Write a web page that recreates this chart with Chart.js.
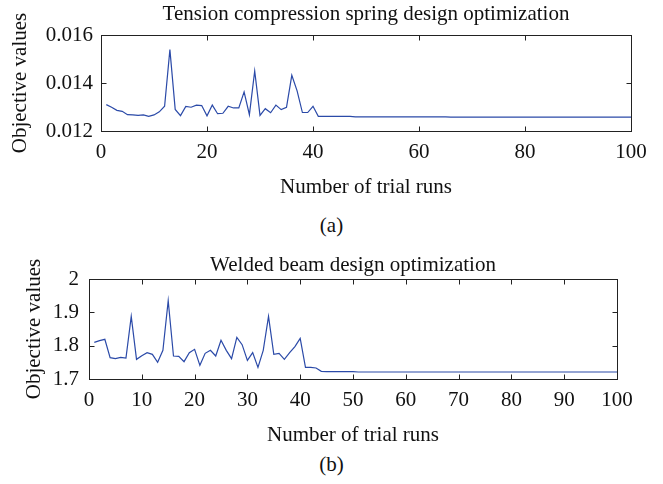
<!DOCTYPE html>
<html lang="en">
<head>
<meta charset="UTF-8">
<title>Objective values per trial run</title>
<script src="https://cdn.jsdelivr.net/npm/chart.js"></script>
<style>
  body { margin: 0; background: #fff; width: 663px; height: 484px; position: relative; overflow: hidden;
         font-family: "Liberation Serif", serif; color: #111; }
  .panel { position: absolute; left: 0; width: 663px; height: 210px; }
  .cap { position: absolute; left: 0; width: 663px; text-align: center; font-size: 21px; line-height: 24px; }
</style>
</head>
<body>
<div class="panel" style="top:0"><canvas id="springChart"></canvas></div>
<div class="cap" style="top:213px">(a)</div>
<div class="panel" style="top:240px"><canvas id="beamChart"></canvas></div>
<div class="cap" style="top:452px">(b)</div>

<script>
// run numbers 1..100 on the x axis
const runs = Array.from({ length: 100 }, (_, i) => i + 1);

// (a) tension compression spring, objective value per run
const springValues = [
  0.01310, 0.01299, 0.01286, 0.01282, 0.01268, 0.01267, 0.01265, 0.01267, 0.01261, 0.01267,
  0.01280, 0.01303, 0.01539, 0.01290, 0.01264, 0.01302, 0.01299, 0.01308, 0.01306, 0.01263,
  0.01308, 0.01272, 0.01274, 0.01303, 0.01296, 0.01296, 0.01363, 0.01268, 0.01450, 0.01265,
  0.01293, 0.01276, 0.01308, 0.01289, 0.01299, 0.01432, 0.01367, 0.01277, 0.01277, 0.01303,
  0.01261, 0.01261, 0.01261, 0.01261, 0.01261, 0.01261, 0.01261, 0.01259, 0.01259, 0.01259,
  0.01259, 0.01259, 0.01259, 0.01259, 0.01259, 0.01259, 0.01259, 0.01259, 0.01259, 0.01259,
  0.01259, 0.01259, 0.01259, 0.01259, 0.01259, 0.01258, 0.01258, 0.01258, 0.01258, 0.01258,
  0.01258, 0.01258, 0.01258, 0.01258, 0.01258, 0.01258, 0.01258, 0.01258, 0.01258, 0.01258,
  0.01258, 0.01258, 0.01258, 0.01258, 0.01258, 0.01258, 0.01258, 0.01258, 0.01258, 0.01258,
  0.01258, 0.01258, 0.01258, 0.01258, 0.01258, 0.01258, 0.01258, 0.01258, 0.01258, 0.01258
];

// (b) welded beam, objective value per run
const beamValues = [
  1.810, 1.815, 1.819, 1.764, 1.761, 1.765, 1.763, 1.888, 1.759, 1.770,
  1.779, 1.774, 1.750, 1.786, 1.935, 1.769, 1.768, 1.752, 1.779, 1.789,
  1.741, 1.777, 1.786, 1.769, 1.816, 1.786, 1.761, 1.825, 1.803, 1.756,
  1.779, 1.735, 1.786, 1.888, 1.774, 1.777, 1.759, 1.779, 1.797, 1.822,
  1.735, 1.735, 1.733, 1.723, 1.722, 1.722, 1.722, 1.722, 1.722, 1.722,
  1.721, 1.721, 1.721, 1.721, 1.721, 1.721, 1.721, 1.721, 1.721, 1.721,
  1.721, 1.721, 1.721, 1.721, 1.721, 1.721, 1.721, 1.721, 1.721, 1.721,
  1.721, 1.721, 1.721, 1.721, 1.721, 1.721, 1.721, 1.721, 1.721, 1.721,
  1.721, 1.721, 1.721, 1.721, 1.721, 1.721, 1.721, 1.721, 1.721, 1.721,
  1.721, 1.721, 1.721, 1.721, 1.721, 1.721, 1.721, 1.721, 1.721, 1.721
];

const FAMILY = '"Liberation Serif", "Times New Roman", serif';
const FONT = { family: FAMILY, size: 21, weight: 'normal' };
const TITLE_FONT = { family: FAMILY, size: 21, weight: 'normal', lineHeight: 1 };
const INK = '#111';
const LINE = '#2b4aa8';

// matlab style box with inward tick marks on all four sides
const boxFrame = {
  id: 'boxFrame',
  afterDatasetsDraw(chart) {
    const { ctx, chartArea: a, scales: { x, y } } = chart;
    const L = Math.round(a.left) + 0.5, R = Math.round(a.right) + 0.5;
    const T = Math.round(a.top) + 0.5, B = Math.round(a.bottom) + 0.5;
    ctx.save();
    ctx.strokeStyle = '#222';
    ctx.lineWidth = 1;
    ctx.strokeRect(L, T, R - L, B - T);
    ctx.beginPath();
    x.ticks.forEach(t => {
      const px = Math.round(x.getPixelForValue(t.value)) + 0.5;
      ctx.moveTo(px, B); ctx.lineTo(px, B - 5);
      ctx.moveTo(px, T); ctx.lineTo(px, T + 5);
    });
    y.ticks.forEach(t => {
      const py = Math.round(y.getPixelForValue(t.value)) + 0.5;
      ctx.moveTo(L, py); ctx.lineTo(L + 5, py);
      ctx.moveTo(R, py); ctx.lineTo(R - 5, py);
    });
    ctx.stroke();
    ctx.restore();
  }
};

function makeChart(id, cfg) {
  return new Chart(document.getElementById(id), {
    type: 'line',
    data: {
      datasets: [{
        data: runs.map((r, i) => ({ x: r, y: cfg.values[i] })),
        borderColor: LINE,
        borderWidth: 1.2,
        pointRadius: 0,
        tension: 0,
        fill: false
      }]
    },
    options: {
      responsive: true,
      maintainAspectRatio: false,
      animation: false,
      layout: { padding: { left: 0, right: cfg.rightPad, top: 0, bottom: 0 } },
      plugins: {
        legend: { display: false },
        tooltip: { enabled: false },
        title: {
          display: true, text: cfg.title, color: INK, font: TITLE_FONT, fullSize: false,
          padding: { top: cfg.titleTop, bottom: cfg.titleBottom }
        }
      },
      scales: {
        x: {
          type: 'linear', min: 0, max: 100,
          grid: { display: false, drawTicks: false },
          border: { display: false },
          ticks: { stepSize: cfg.xStep, padding: 9, color: INK, font: FONT, maxRotation: 0, autoSkip: false },
          title: { display: true, text: 'Number of trial runs', color: INK, font: FONT,
                   padding: { top: 0, bottom: cfg.xTitleBottom } },
          afterFit(s) { s.height = cfg.xAxisHeight; }
        },
        y: {
          min: cfg.yMin, max: cfg.yMax,
          grid: { display: false, drawTicks: false },
          border: { display: false },
          ticks: { stepSize: cfg.yStep, padding: cfg.yTickPad, color: INK, font: FONT,
                   callback: v => String(Number(v.toFixed(cfg.yDigits))) },
          title: { display: true, text: 'Objective values', color: INK, font: FONT,
                   padding: { top: cfg.yTitleLeft, bottom: 0 } },
          afterFit(s) { s.width = cfg.yAxisWidth; }
        }
      }
    },
    plugins: [boxFrame]
  });
}

makeChart('springChart', {
  values: springValues,
  title: 'Tension compression spring design optimization',
  titleTop: 4, titleBottom: 10,
  xStep: 20, xAxisHeight: 79, xTitleBottom: 10,
  yMin: 0.012, yMax: 0.016, yStep: 0.002, yDigits: 3, yTickPad: 8,
  yAxisWidth: 101, yTitleLeft: 8, rightPad: 32
});

makeChart('beamChart', {
  values: beamValues,
  title: 'Welded beam design optimization',
  titleTop: 15, titleBottom: 3,
  xStep: 10, xAxisHeight: 71, xTitleBottom: 2,
  yMin: 1.7, yMax: 2, yStep: 0.1, yDigits: 1, yTickPad: 10,
  yAxisWidth: 89, yTitleLeft: 22, rightPad: 46
});
</script>
</body>
</html>
